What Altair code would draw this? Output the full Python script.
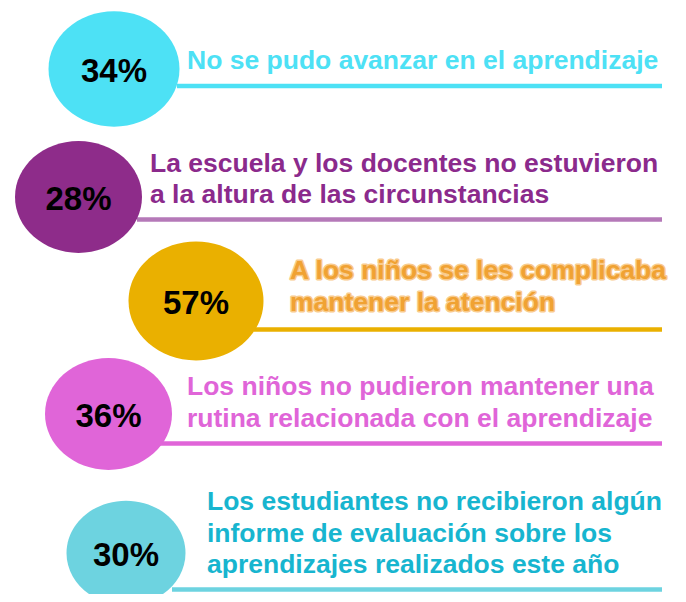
import altair as alt
import pandas as pd

# ---- content ----
percentages = ["34%", "28%", "57%", "36%", "30%"]
labels = [
    ["No se pudo avanzar en el aprendizaje"],
    ["La escuela y los docentes no estuvieron", "a la altura de las circunstancias"],
    ["A los niños se les complicaba", "mantener la atención"],
    ["Los niños no pudieron mantener una", "rutina relacionada con el aprendizaje"],
    ["Los estudiantes no recibieron algún", "informe de evaluación sobre los",
     "aprendizajes realizados este año"],
]

# ---- styles ----
circle_colors = ["#4DE1F5", "#8E2C8A", "#EAB000", "#E065D8", "#6DD3E0"]
text_colors = ["#4DE1F5", "#8B2A8C", "#F0A233", "#E065D8", "#17B5CF"]
halo_colors = [None, None, "#F9CB8C", None, None]
line_colors = ["#4DE1F5", "#B579B8", "#EAB000", "#E065D8", "#6DD3E0"]

# ---- layout (page pixel positions) ----
circle_cx = [114, 78.5, 196, 108.5, 126]
circle_cy = [69, 197, 301, 414, 553]
circle_w = [131, 127, 135, 127, 119]
text_x = [187, 150, 290, 187, 207]
text_y0 = [69.3, 171.7, 279, 395, 510]
line_step = 31.7
rule_y = [86, 219.5, 329.5, 443.5, 589.5]
rule_x1 = [177, 137, 254, 159, 172]
rule_x2 = [662, 662, 662, 662, 662]

circles = pd.DataFrame({
    "cx": circle_cx, "cy": circle_cy, "size": [w * w for w in circle_w],
    "color": circle_colors, "pct": percentages,
    "ty": [c + 12.5 for c in circle_cy],
})
rules = pd.DataFrame({"x1": rule_x1, "x2": rule_x2, "y": rule_y, "color": line_colors})
rows = []
for i, lines in enumerate(labels):
    for j, t in enumerate(lines):
        rows.append({"x": text_x[i], "y": text_y0[i] + j * line_step, "t": t,
                     "color": text_colors[i], "halo": halo_colors[i]})
texts = pd.DataFrame(rows)
halo_texts = texts[texts["halo"].notna()]

X = alt.Scale(domain=[8, 678])
Y = alt.Scale(domain=[8, 594], reverse=True)

ellipse = ("M -1 0 C -1 -0.486 -0.5523 -0.88 0 -0.88 C 0.5523 -0.88 1 -0.486 1 0 "
           "C 1 0.486 0.5523 0.88 0 0.88 C -0.5523 0.88 -1 0.486 -1 0 Z")

rule_layer = alt.Chart(rules).mark_rule(strokeWidth=4.5).encode(
    x=alt.X("x1:Q", scale=X, axis=None),
    x2="x2:Q",
    y=alt.Y("y:Q", scale=Y, axis=None),
    color=alt.Color("color:N", scale=None),
)

circle_layer = alt.Chart(circles).mark_point(shape=ellipse, filled=True, opacity=1, strokeWidth=0).encode(
    x=alt.X("cx:Q", scale=X, axis=None),
    y=alt.Y("cy:Q", scale=Y, axis=None),
    size=alt.Size("size:Q", scale=None),
    color=alt.Color("color:N", scale=None),
)

pct_layer = alt.Chart(circles).mark_text(
    font="Liberation Sans", fontWeight="bold", fontSize=33, align="center",
    baseline="alphabetic", color="#000000",
).encode(
    x=alt.X("cx:Q", scale=X, axis=None),
    y=alt.Y("ty:Q", scale=Y, axis=None),
    text="pct:N",
)

halo_layer = alt.Chart(halo_texts).mark_text(
    font="Liberation Sans", fontWeight="bold", fontSize=26.5, align="left",
    baseline="alphabetic", strokeWidth=3, strokeJoin="round",
).encode(
    x=alt.X("x:Q", scale=X, axis=None),
    y=alt.Y("y:Q", scale=Y, axis=None),
    text="t:N",
    stroke=alt.Stroke("halo:N", scale=None),
    color=alt.Color("halo:N", scale=None),
)

text_layer = alt.Chart(texts).mark_text(
    font="Liberation Sans", fontWeight="bold", fontSize=26.5, align="left",
    baseline="alphabetic",
).encode(
    x=alt.X("x:Q", scale=X, axis=None),
    y=alt.Y("y:Q", scale=Y, axis=None),
    text="t:N",
    color=alt.Color("color:N", scale=None),
)

chart = alt.layer(rule_layer, circle_layer, pct_layer, halo_layer, text_layer).properties(
    width=670, height=586, padding=0,
    autosize=alt.AutoSizeParams(type="none"),
    background="#FFFFFF",
).configure_view(stroke=None)

chart.save("out.html", embed_options={"renderer": "svg", "actions": False})
